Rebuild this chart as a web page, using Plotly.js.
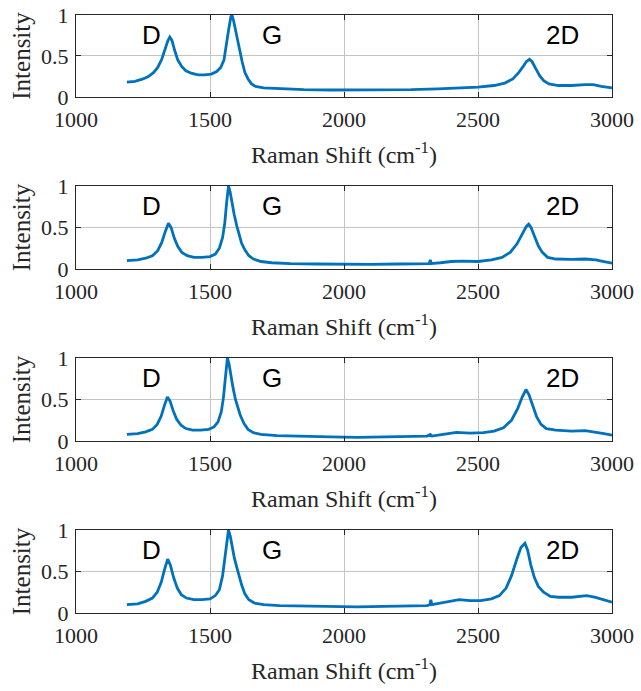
<!DOCTYPE html>
<html>
<head>
<meta charset="utf-8">
<script src="https://cdn.plot.ly/plotly-3.0.1.min.js"></script>
<style>html,body{margin:0;padding:0;background:#fff;}#chart{width:641px;height:691px;}</style>
</head>
<body>
<div id="chart"></div>
<script>
// ---- Data ----
const xTicks = [1000, 1500, 2000, 2500, 3000];
const xTickLabels = ['1000', '1500', '2000', '2500', '3000'];
const yTicks = [0, 0.5, 1];
const yTickLabels = ['0', '0.5', '1'];
const peakLabels = ['D', 'G', '2D'];
const peakLabelX = [1282, 1730, 2816];
const peakLabelY = 0.76;

const shift1 = [1190,1220,1250,1270,1290,1305,1320,1332,1342,1350,1358,1368,1380,1395,1410,1430,1455,1480,1505,1525,1540,1552,1556,1562,1570,1578,1582,1588,1596,1605,1612,1620,1630,1642,1655,1670,1700,1760,1850,1950,2050,2150,2250,2350,2420,2500,2560,2600,2630,2650,2668,2680,2692,2702,2715,2730,2745,2765,2800,2850,2900,2930,2960,3000];
const int1 = [0.18,0.19,0.22,0.25,0.30,0.36,0.46,0.58,0.68,0.73,0.69,0.57,0.45,0.37,0.32,0.29,0.27,0.27,0.28,0.31,0.36,0.45,0.55,0.64,0.83,0.98,1.00,0.93,0.80,0.64,0.55,0.43,0.30,0.22,0.16,0.13,0.11,0.10,0.09,0.085,0.085,0.085,0.09,0.10,0.11,0.12,0.14,0.17,0.22,0.29,0.37,0.43,0.46,0.43,0.35,0.26,0.20,0.16,0.14,0.14,0.15,0.15,0.13,0.11];

const shift2 = [1190,1230,1260,1285,1305,1320,1333,1345,1355,1367,1380,1395,1415,1440,1470,1500,1520,1535,1547,1555,1562,1569,1575,1582,1590,1600,1608,1618,1630,1645,1662,1690,1730,1800,1900,2000,2100,2200,2300,2318,2322,2326,2360,2400,2440,2500,2550,2590,2620,2645,2665,2680,2689,2698,2710,2725,2740,2760,2790,2850,2900,2940,2970,3000];
const int2 = [0.10,0.11,0.13,0.16,0.22,0.32,0.45,0.55,0.50,0.37,0.27,0.20,0.16,0.14,0.14,0.15,0.18,0.25,0.38,0.55,0.80,1.00,0.93,0.80,0.66,0.52,0.42,0.31,0.23,0.16,0.12,0.09,0.075,0.065,0.06,0.055,0.055,0.06,0.06,0.065,0.11,0.065,0.075,0.09,0.095,0.09,0.11,0.14,0.20,0.30,0.42,0.51,0.54,0.50,0.40,0.28,0.20,0.14,0.12,0.115,0.12,0.11,0.09,0.07];

const shift3 = [1190,1230,1260,1285,1303,1318,1330,1341,1351,1363,1376,1392,1410,1435,1465,1495,1515,1530,1542,1550,1558,1565,1571,1578,1586,1595,1603,1613,1627,1642,1662,1690,1750,1850,1950,2050,2150,2250,2310,2322,2328,2370,2420,2470,2520,2560,2595,2625,2648,2665,2679,2690,2703,2719,2735,2755,2790,2850,2900,2940,2970,3000];
const int3 = [0.08,0.09,0.11,0.14,0.20,0.30,0.43,0.53,0.48,0.36,0.26,0.19,0.15,0.13,0.13,0.14,0.17,0.23,0.35,0.52,0.78,1.00,0.93,0.78,0.64,0.50,0.41,0.31,0.21,0.14,0.10,0.08,0.065,0.055,0.05,0.045,0.05,0.055,0.06,0.08,0.06,0.08,0.105,0.095,0.10,0.12,0.16,0.25,0.39,0.53,0.62,0.56,0.43,0.29,0.20,0.15,0.13,0.12,0.125,0.11,0.09,0.07];

const shift4 = [1190,1230,1260,1285,1303,1318,1330,1342,1352,1364,1378,1393,1412,1440,1470,1500,1520,1535,1547,1555,1562,1569,1576,1583,1591,1600,1608,1618,1630,1645,1665,1700,1760,1850,1950,2050,2150,2250,2310,2320,2324,2328,2360,2400,2430,2470,2510,2550,2580,2605,2625,2645,2660,2675,2685,2697,2710,2725,2745,2770,2800,2850,2880,2905,2935,2965,3000];
const int4 = [0.10,0.11,0.14,0.18,0.25,0.37,0.52,0.65,0.58,0.43,0.30,0.22,0.18,0.16,0.16,0.17,0.21,0.28,0.45,0.65,0.86,1.00,0.92,0.78,0.66,0.55,0.45,0.34,0.23,0.16,0.12,0.10,0.09,0.085,0.08,0.075,0.08,0.085,0.09,0.10,0.16,0.10,0.12,0.15,0.16,0.15,0.15,0.17,0.21,0.30,0.45,0.65,0.79,0.84,0.76,0.58,0.43,0.32,0.25,0.20,0.19,0.19,0.20,0.21,0.19,0.16,0.13];

const spectraX = [shift1, shift2, shift3, shift4];
const spectraY = [int1, int2, int3, int4];

// ---- Layout / styling ----
const lineColor = '#0072BD';
const axisColor = '#262626';
const gridColor = '#c4c4c4';
const serif = 'Liberation Serif, Times New Roman, serif';
const sans = 'Liberation Sans, Arial, sans-serif';
const domains = [[0.8629, 1.0], [0.5753, 0.7140], [0.2876, 0.4264], [0.0, 0.1388]];

const traces = [];
const layout = {
  width: 641, height: 691,
  margin: {l: 76, r: 29, t: 15, b: 78},
  paper_bgcolor: '#ffffff', plot_bgcolor: '#ffffff',
  showlegend: false,
  annotations: []
};

for (let i = 0; i < 4; i++) {
  const sfx = i === 0 ? '' : String(i + 1);
  traces.push({
    type: 'scatter', mode: 'lines',
    x: spectraX[i], y: spectraY[i],
    xaxis: 'x' + sfx, yaxis: 'y' + sfx,
    line: {color: lineColor, width: 2.8},
    hoverinfo: 'skip'
  });
  layout['xaxis' + sfx] = {
    domain: [0, 1], anchor: 'y' + sfx,
    range: [1000, 3000], tickmode: 'array', tickvals: xTicks, ticktext: xTickLabels,
    showgrid: true, gridcolor: gridColor, gridwidth: 1, zeroline: false,
    showline: true, linecolor: axisColor, linewidth: 1, mirror: 'ticks',
    ticks: 'inside', ticklen: 5, tickcolor: axisColor,
    tickfont: {family: serif, size: 22, color: axisColor},
    ticklabelstandoff: 3,
    title: {text: 'Raman Shift (cm<sup>-1</sup>)', font: {family: serif, size: 24, color: axisColor}, standoff: 14}
  };
  layout['yaxis' + sfx] = {
    domain: domains[i], anchor: 'x' + sfx,
    range: [0, 1], tickmode: 'array', tickvals: yTicks, ticktext: yTickLabels,
    showgrid: true, gridcolor: gridColor, gridwidth: 1, zeroline: false,
    showline: true, linecolor: axisColor, linewidth: 1, mirror: 'ticks',
    ticks: 'inside', ticklen: 5, tickcolor: axisColor,
    tickfont: {family: serif, size: 22, color: axisColor},
    ticklabelstandoff: 2,
    title: {text: 'Intensity', font: {family: serif, size: 25, color: axisColor}, standoff: 3}
  };
  for (let k = 0; k < peakLabels.length; k++) {
    layout.annotations.push({
      xref: 'x' + sfx, yref: 'y' + sfx,
      x: peakLabelX[k], y: peakLabelY,
      text: peakLabels[k], showarrow: false,
      xanchor: 'center', yanchor: 'middle',
      font: {family: sans, size: 26, color: '#000000'}
    });
  }
}

Plotly.newPlot('chart', traces, layout, {displayModeBar: false, staticPlot: true});
</script>
</body>
</html>
